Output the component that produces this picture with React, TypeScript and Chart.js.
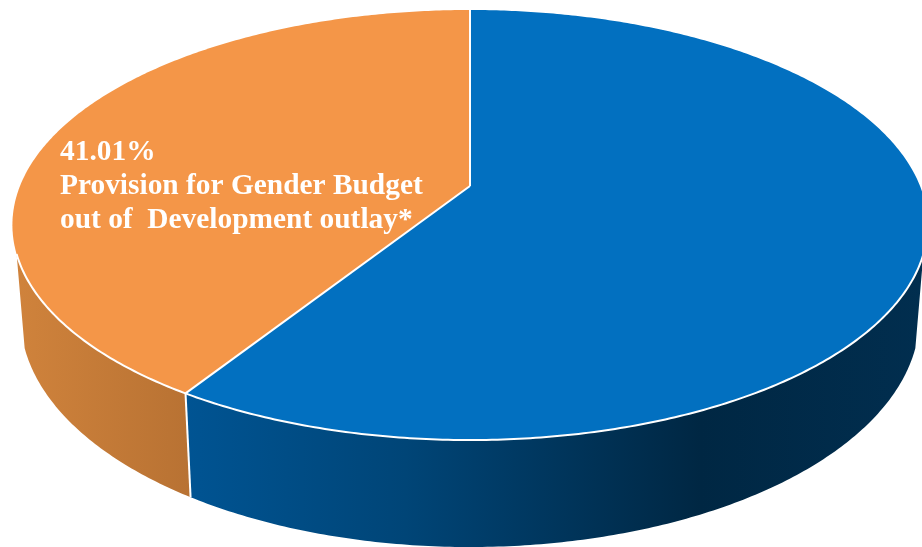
import React, { useEffect, useRef } from "react";
import { Chart, registerables } from "chart.js";

Chart.register(...registerables);

const categories = ["Other outlay", "Provision for Gender Budget out of Development outlay*"];
const shares = [58.99, 41.01];
const topColors = ["#0270C0", "#F49648"];
const labelLines = ["41.01%", "Provision for Gender Budget", "out of  Development outlay*"];

const W = 922;
const H = 547;
const PERSP = -0.1814;
const TOP = { d: 450, a: 174.2, b: 186 };
const LOW = { d: 442, a: 172.4, b: 275.4 };
const CX = 470;
const SIDE_START = (18 * Math.PI) / 180;
const SIDE_END = (162 * Math.PI) / 180;

function project(angle: number, ring: { d: number; a: number; b: number }, r = 1) {
  const u = Math.cos(angle) * r;
  const v = Math.sin(angle) * r;
  const w = 1 + PERSP * v;
  return { x: CX + (ring.d * u) / w, y: (ring.a * v + ring.b) / w };
}

function tracePath(ctx: CanvasRenderingContext2D, from: number, to: number, ring: any, first: boolean) {
  const steps = Math.max(2, Math.ceil(Math.abs(to - from) / 0.01));
  for (let i = 0; i <= steps; i++) {
    const p = project(from + ((to - from) * i) / steps, ring);
    if (i === 0 && first) ctx.moveTo(p.x, p.y);
    else ctx.lineTo(p.x, p.y);
  }
}

const perspectivePie = {
  id: "perspectivePie",
  beforeDatasetDraw(chart: any) {
    const ctx: CanvasRenderingContext2D = chart.ctx;
    const arcs = chart.getDatasetMeta(0).data;
    const grads = [
      (() => {
        const g = ctx.createLinearGradient(184, 0, 922, 0);
        g.addColorStop(0, "#005493");
        g.addColorStop(0.3, "#004577");
        g.addColorStop(0.7, "#002743");
        g.addColorStop(1, "#012E4F");
        return g;
      })(),
      (() => {
        const g = ctx.createLinearGradient(13, 0, 190, 0);
        g.addColorStop(0, "#D0833C");
        g.addColorStop(1, "#B87233");
        return g;
      })(),
    ];
    ctx.save();
    arcs.forEach((arc: any, i: number) => {
      const from = Math.max(arc.startAngle, SIDE_START);
      const to = Math.min(arc.endAngle, SIDE_END);
      if (to <= from) return;
      ctx.beginPath();
      tracePath(ctx, from, to, TOP, true);
      tracePath(ctx, to, from, LOW, false);
      ctx.closePath();
      ctx.fillStyle = grads[i];
      ctx.fill();
    });
    arcs.forEach((arc: any, i: number) => {
      ctx.beginPath();
      ctx.moveTo(CX, TOP.b);
      tracePath(ctx, arc.startAngle, arc.endAngle, TOP, false);
      ctx.closePath();
      ctx.fillStyle = topColors[i];
      ctx.fill();
    });
    ctx.strokeStyle = "#FFFFFF";
    ctx.lineWidth = 2;
    ctx.lineJoin = "round";
    arcs.forEach((arc: any) => {
      const a = project(arc.startAngle, TOP);
      ctx.beginPath();
      ctx.moveTo(CX, TOP.b);
      ctx.lineTo(a.x, a.y);
      ctx.stroke();
      if (arc.startAngle > SIDE_START && arc.startAngle < SIDE_END) {
        const b = project(arc.startAngle, LOW);
        ctx.beginPath();
        ctx.moveTo(a.x, a.y);
        ctx.lineTo(b.x, b.y);
        ctx.stroke();
      }
    });
    ctx.beginPath();
    tracePath(ctx, SIDE_START, SIDE_END, TOP, true);
    ctx.stroke();
    ctx.restore();
    return false;
  },
  afterDatasetsDraw(chart: any) {
    const ctx: CanvasRenderingContext2D = chart.ctx;
    ctx.save();
    ctx.fillStyle = "#FFFFFF";
    ctx.font = 'bold 29.4px "Liberation Serif"';
    ctx.textBaseline = "alphabetic";
    ctx.textAlign = "left";
    labelLines.forEach((line, i) => ctx.fillText(line, 60, 160 + i * 33.8));
    ctx.restore();
  },
};

export default function App() {
  const ref = useRef<HTMLCanvasElement>(null);
  useEffect(() => {
    document.body.style.margin = "0";
    document.body.style.background = "#FFFFFF";
    const chart = new Chart(ref.current!, {
      type: "pie",
      data: {
        labels: categories,
        datasets: [{ data: shares, backgroundColor: topColors, borderWidth: 0 }],
      },
      options: {
        responsive: false,
        animation: false,
        plugins: { legend: { display: false }, tooltip: { enabled: false } },
      },
      plugins: [perspectivePie],
    } as any);
    return () => chart.destroy();
  }, []);
  return <canvas ref={ref} width={W} height={H} style={{ display: "block", width: W, height: H }} />;
}
